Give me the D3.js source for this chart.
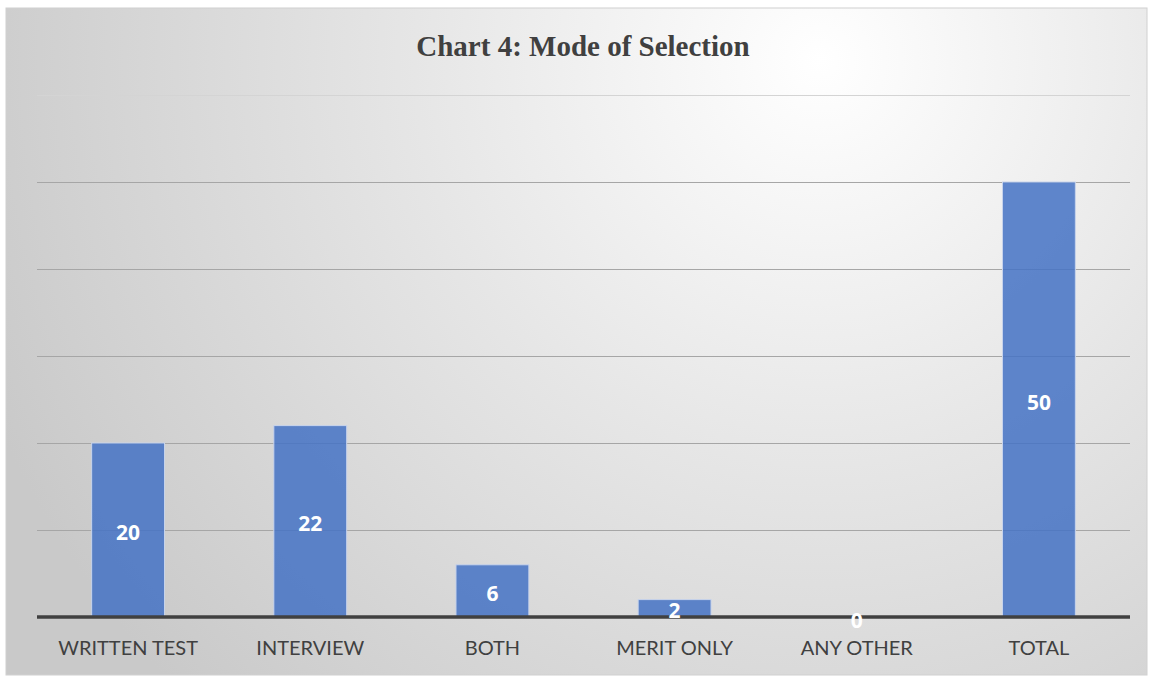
<!DOCTYPE html>
<html><head><meta charset="utf-8">
<script src="https://cdn.jsdelivr.net/npm/d3@7"></script>
<style>html,body{margin:0;padding:0;background:#fff;}svg{display:block;}</style>
</head><body>
<svg id="chart" width="1153" height="677"></svg>
<script>
const categories = ["WRITTEN TEST","INTERVIEW","BOTH","MERIT ONLY","ANY OTHER","TOTAL"];
const values = [20,22,6,2,0,50];
const gridTicks = [0,10,20,30,40,50,60];
const title = "Chart 4: Mode of Selection";

(function(){
const svg = d3.select("#chart");
const W = 1153, H = 677;
const defs = svg.append("defs");
const grad = defs.append("radialGradient").attr("id","bg")
  .attr("gradientUnits","userSpaceOnUse")
  .attr("cx",820).attr("cy",60).attr("r",900);
grad.append("stop").attr("offset","0%").attr("stop-color","#ffffff");
grad.append("stop").attr("offset","45%").attr("stop-color","#e6e6e6");
grad.append("stop").attr("offset","100%").attr("stop-color","#c9c9c9");

svg.append("rect").attr("x",6).attr("y",8).attr("width",W-12).attr("height",H-10)
  .attr("fill","url(#bg)").attr("stroke","#d0d0d0").attr("stroke-width",1);

const mLeft = 37, mRight = 1130, mTop = 95, mBottom = 617;
const x = d3.scaleBand().domain(categories).range([mLeft,mRight]).paddingInner(0.6).paddingOuter(0.3);
const y = d3.scaleLinear().domain([0,60]).range([mBottom,mTop]);

svg.append("g").selectAll("line").data(gridTicks.filter(d=>d>0)).join("line")
  .attr("x1",mLeft).attr("x2",mRight)
  .attr("y1",d=>Math.round(y(d))+0.5).attr("y2",d=>Math.round(y(d))+0.5)
  .attr("stroke",d=>d===60?"#d4d4d4":"#a6a6a6").attr("stroke-width",1);

svg.append("g").selectAll("rect").data(values).join("rect")
  .attr("x",(d,i)=>x(categories[i]))
  .attr("y",d=>y(d))
  .attr("width",x.bandwidth())
  .attr("height",d=>y(0)-y(d))
  .attr("fill","#4472C4").attr("fill-opacity",0.85)
  .attr("stroke","#c8d4ec").attr("stroke-width",1);

const xAxis = d3.axisBottom(x).tickSize(0).tickPadding(24);
const ax = svg.append("g").attr("transform",`translate(0,${mBottom})`).call(xAxis);
ax.select(".domain").attr("stroke","#404040").attr("stroke-width",3.5)
  .attr("d",`M${mLeft},0H${mRight}`);
ax.selectAll("text").attr("font-family","Lato, sans-serif")
  .attr("font-size",20).attr("fill","#404040");

svg.append("g").selectAll("text").data(values).join("text")
  .attr("x",(d,i)=>x(categories[i])+x.bandwidth()/2)
  .attr("y",d=>d===0? y(0)+3 : (y(0)+y(d))/2 + 2)
  .attr("text-anchor","middle").attr("dominant-baseline","central")
  .attr("font-family","'Open Sans', sans-serif").attr("font-weight","bold")
  .attr("font-size",21).attr("fill","#ffffff")
  .text(d=>d);

svg.append("text").attr("x",583).attr("y",56).attr("text-anchor","middle")
  .attr("font-family","'Liberation Serif', 'Times New Roman', serif")
  .attr("font-weight","bold").attr("font-size",29).attr("fill","#404040")
  .text(title);
})();
</script>
</body></html>
